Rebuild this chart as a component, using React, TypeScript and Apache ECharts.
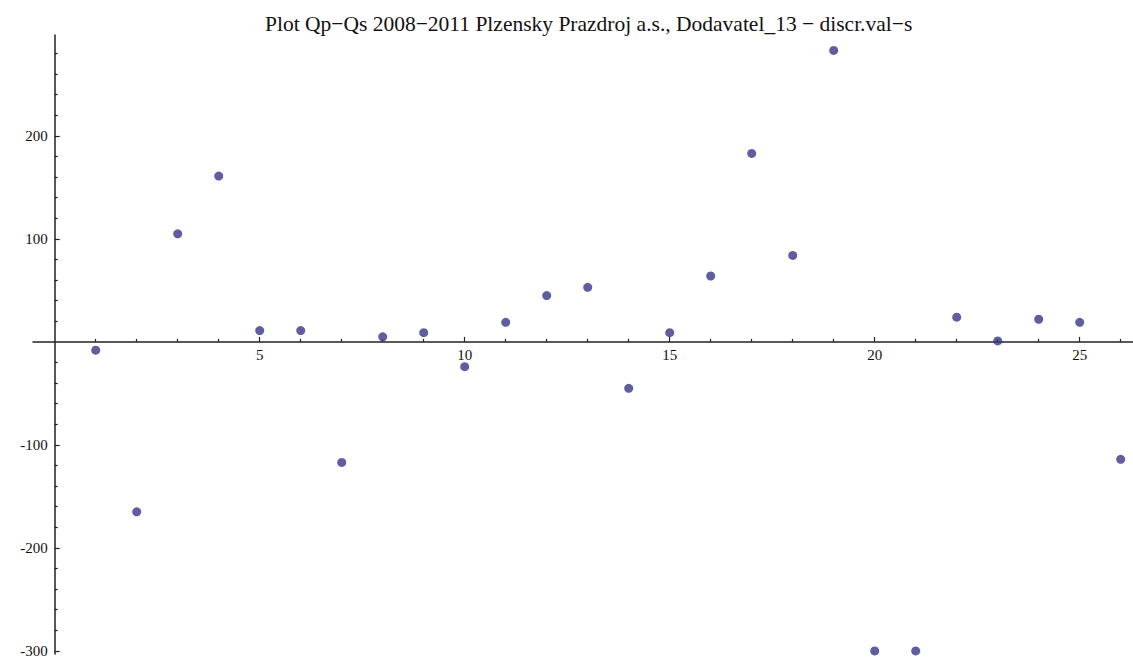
import React, { useEffect, useRef } from "react";
import * as echarts from "echarts";

const TITLE = "Plot Qp\u2212Qs 2008\u22122011 Plzensky Prazdroj a.s., Dodavatel_13 \u2212 discr.val\u2212s";
const xValues = [1, 2, 3, 4, 5, 6, 7, 8, 9, 10, 11, 12, 13, 14, 15, 16, 17, 18, 19, 20, 21, 22, 23, 24, 25, 26];
const yValues = [-8, -165, 105, 161, 11, 11, -117, 5, 9, -24, 19, 45, 53, -45, 9, 64, 183, 84, 283, -300, -300, 24, 1, 22, 19, -114];
const xMajorTicks = [5, 10, 15, 20, 25];
const xMinorTicks = [1, 2, 3, 4, 6, 7, 8, 9, 11, 12, 13, 14, 16, 17, 18, 19, 21, 22, 23, 24, 26];
const yMajorTicks = [-300, -200, -100, 100, 200];
const yMinorTicks = [-280, -260, -240, -220, -180, -160, -140, -120, -80, -60, -40, -20, 20, 40, 60, 80, 120, 140, 160, 180, 220, 240, 260, 280];

const X_MIN = -0.53;
const X_MAX = 26.3;
const Y_MIN = -303;
const Y_MAX = 298;
const GRID = { left: 33, top: 35, width: 1100, height: 619 };

export default function App() {
  const ref = useRef<HTMLDivElement>(null);
  useEffect(() => {
    if (!ref.current) return;
    const chart = echarts.init(ref.current, null, { renderer: "svg" });
    const axisColor = "#222";
    const labelStyle = { color: "#111", fontFamily: "Liberation Serif, Times New Roman, serif", fontSize: 15 };
    // labels stay at grid edge in this ECharts version; shift them to sit beside the zero lines
    const zeroY = GRID.top + (GRID.height * (Y_MAX - 0)) / (Y_MAX - Y_MIN);
    const zeroX = GRID.left + (GRID.width * (0 - X_MIN)) / (X_MAX - X_MIN);
    const xLabelMargin = zeroY + 6 - (GRID.top + GRID.height);
    const yLabelMargin = GRID.left - (zeroX - 7);
    chart.setOption({
      animation: false,
      backgroundColor: "#fff",
      title: {
        text: TITLE,
        left: 260,
        top: 8,
        textStyle: { fontFamily: "Liberation Serif, Times New Roman, serif", fontSize: 21.5, fontWeight: "normal", color: "#111" },
      },
      grid: { ...GRID, containLabel: false, outerBoundsMode: "none" },
      xAxis: [
        {
          type: "value",
          position: "bottom",
          min: X_MIN,
          max: X_MAX,
          axisLine: { show: true, onZero: true, onZeroAxisIndex: 0, lineStyle: { color: axisColor, width: 1.5 } },
          axisTick: { show: true, inside: true, length: 5, customValues: xMajorTicks, lineStyle: { color: axisColor, width: 1.2 } },
          axisLabel: { show: true, customValues: xMajorTicks, margin: xLabelMargin, ...labelStyle },
          splitLine: { show: false },
        },
        {
          type: "value",
          position: "bottom",
          min: X_MIN,
          max: X_MAX,
          axisLine: { show: false, onZero: true, onZeroAxisIndex: 0 },
          axisTick: { show: true, inside: true, length: 3, customValues: xMinorTicks, lineStyle: { color: axisColor, width: 1.2 } },
          axisLabel: { show: false },
          splitLine: { show: false },
        },
      ],
      yAxis: [
        {
          type: "value",
          position: "left",
          min: Y_MIN,
          max: Y_MAX,
          axisLine: { show: true, onZero: true, onZeroAxisIndex: 0, lineStyle: { color: axisColor, width: 1.5 } },
          axisTick: { show: true, inside: true, length: 5, customValues: yMajorTicks, lineStyle: { color: axisColor, width: 1.2 } },
          axisLabel: { show: true, customValues: yMajorTicks, margin: yLabelMargin, ...labelStyle },
          splitLine: { show: false },
        },
        {
          type: "value",
          position: "left",
          min: Y_MIN,
          max: Y_MAX,
          axisLine: { show: false, onZero: true, onZeroAxisIndex: 0 },
          axisTick: { show: true, inside: true, length: 3, customValues: yMinorTicks, lineStyle: { color: axisColor, width: 1.2 } },
          axisLabel: { show: false },
          splitLine: { show: false },
        },
      ],
      series: [
        {
          type: "scatter",
          xAxisIndex: 0,
          yAxisIndex: 0,
          symbol: "circle",
          symbolSize: 9,
          itemStyle: { color: "#3a3589" },
          data: xValues.map((x, i) => [x, yValues[i]]),
        },
      ],
    });
    return () => chart.dispose();
  }, []);
  return <div ref={ref} style={{ position: "fixed", left: 0, top: 0, width: 1133, height: 662 }} />;
}
